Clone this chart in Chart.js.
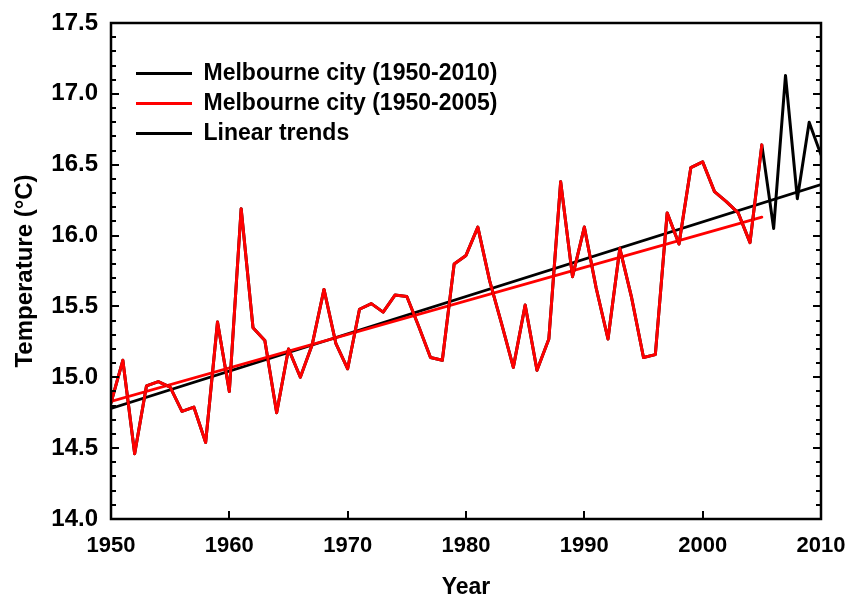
<!DOCTYPE html>
<html>
<head>
<meta charset="utf-8">
<script src="https://cdn.jsdelivr.net/npm/chart.js@4.4.1/dist/chart.umd.min.js"></script>
<style>
  html, body { margin: 0; padding: 0; background: #fff; }
  canvas { display: block; }
</style>
</head>
<body>
<canvas id="tempChart" width="847" height="599"></canvas>
<script>
// Melbourne city annual mean temperature
const years = [
    1950, 1951, 1952, 1953, 1954, 1955, 1956, 1957, 1958, 1959,
    1960, 1961, 1962, 1963, 1964, 1965, 1966, 1967, 1968, 1969,
    1970, 1971, 1972, 1973, 1974, 1975, 1976, 1977, 1978, 1979,
    1980, 1981, 1982, 1983, 1984, 1985, 1986, 1987, 1988, 1989,
    1990, 1991, 1992, 1993, 1994, 1995, 1996, 1997, 1998, 1999,
    2000, 2001, 2002, 2003, 2004, 2005, 2006, 2007, 2008, 2009,
    2010
];
const tempMelb = [
    14.82, 15.12, 14.46, 14.94, 14.97, 14.93, 14.76, 14.79, 14.54, 15.39,
    14.90, 16.19, 15.35, 15.26, 14.75, 15.20, 15.00, 15.23, 15.62, 15.24,
    15.06, 15.48, 15.52, 15.46, 15.58, 15.57, 15.36, 15.14, 15.12, 15.80,
    15.86, 16.06, 15.68, 15.38, 15.07, 15.51, 15.05, 15.27, 16.38, 15.71,
    16.06, 15.63, 15.27, 15.91, 15.56, 15.14, 15.16, 16.16, 15.94, 16.48,
    16.52, 16.31, 16.24, 16.16, 15.95, 16.64, 16.05, 17.13, 16.26, 16.80,
    16.57
];
// second series covers 1950-2005 only
const LAST_SHORT = 2005;

// linear trend end points
const trendYearsAll = [1950, 2010];
const trendAll = [14.78, 16.36];
const trendYearsShort = [1950, 2005];
const trendShort = [14.83, 16.13];

const xTicks = [1950, 1960, 1970, 1980, 1990, 2000, 2010];

const FONT = "'Liberation Sans', Arial, sans-serif";

function toPoints(xs, ys) {
    return xs.map((x, i) => ({ x: x, y: ys[i] }));
}

const nShort = years.indexOf(LAST_SHORT) + 1;

// frame + inward tick marks like the original figure
const frameTicks = {
    id: 'frameTicks',
    afterDatasetsDraw(chart) {
        const { ctx, chartArea: a, scales } = chart;
        const xs = scales.x, ys = scales.y;
        ctx.save();
        ctx.strokeStyle = '#000';
        ctx.lineWidth = 2;
        ctx.beginPath();
        for (let i = 0; i <= 35; i++) {
            const v = 14 + i * 0.1;
            const py = Math.round(ys.getPixelForValue(v));
            const len = (i % 5 === 0) ? 8 : 5;
            ctx.moveTo(a.left, py); ctx.lineTo(a.left + len, py);
            ctx.moveTo(a.right, py); ctx.lineTo(a.right - len, py);
        }
        xTicks.forEach(v => {
            const px = Math.round(xs.getPixelForValue(v));
            ctx.moveTo(px, a.bottom); ctx.lineTo(px, a.bottom - 8);
        });
        ctx.stroke();
        ctx.lineWidth = 2.5;
        ctx.strokeRect(a.left, a.top, a.right - a.left, a.bottom - a.top);
        ctx.restore();
    }
};

// place the legend at upper left, inside the plot
const legendSpot = {
    id: 'legendSpot',
    afterLayout(chart) {
        const lg = chart.legend;
        if (!lg) return;
        const h = lg.height;
        lg.left = chart.chartArea.left + 18;
        lg.top = chart.chartArea.top + 32;
        lg.right = lg.left + lg.width;
        lg.bottom = lg.top + h;
    }
};

const lineBase = { pointRadius: 0, tension: 0, borderJoinStyle: 'round', borderCapStyle: 'round' };

new Chart(document.getElementById('tempChart'), {
    type: 'line',
    data: {
        datasets: [
            Object.assign({
                label: 'Melbourne city (1950-2010)',
                data: toPoints(years, tempMelb),
                borderColor: '#000000',
                backgroundColor: '#000000',
                borderWidth: 3,
                order: 1
            }, lineBase),
            Object.assign({
                label: 'Melbourne city (1950-2005)',
                data: toPoints(years.slice(0, nShort), tempMelb.slice(0, nShort)),
                borderColor: '#ff0000',
                backgroundColor: '#ff0000',
                borderWidth: 3,
                order: 0
            }, lineBase),
            Object.assign({
                label: 'Linear trends',
                data: toPoints(trendYearsAll, trendAll),
                borderColor: '#000000',
                backgroundColor: '#000000',
                borderWidth: 2.8,
                order: 3
            }, lineBase),
            Object.assign({
                label: 'trend short',
                data: toPoints(trendYearsShort, trendShort),
                borderColor: '#ff0000',
                backgroundColor: '#ff0000',
                borderWidth: 2.8,
                order: 2
            }, lineBase)
        ]
    },
    options: {
        responsive: false,
        devicePixelRatio: 1,
        animation: false,
        layout: { padding: { top: 23, right: 26, left: 0, bottom: 0 } },
        scales: {
            x: {
                type: 'linear',
                min: 1950,
                max: 2010,
                afterFit: (s) => { s.height = 80; s.paddingLeft = 0; s.paddingRight = 0; },
                afterBuildTicks: (s) => { s.ticks = xTicks.map(v => ({ value: v })); },
                grid: { display: false, drawTicks: false },
                border: { display: false },
                ticks: {
                    padding: 14,
                    color: '#000',
                    font: { family: FONT, size: 22, weight: 'bold' },
                    callback: (v) => String(v)
                },
                title: {
                    display: true,
                    text: 'Year',
                    color: '#000',
                    padding: 0,
                    font: { family: FONT, size: 23, weight: 'bold', lineHeight: 1 }
                }
            },
            y: {
                min: 14,
                max: 17.5,
                afterFit: (s) => { s.width = 111; s.paddingTop = 0; s.paddingBottom = 0; },
                grid: { display: false, drawTicks: false },
                border: { display: false },
                ticks: {
                    stepSize: 0.5,
                    padding: 13,
                    color: '#000',
                    font: { family: FONT, size: 24, weight: 'bold' },
                    callback: (v) => Number(v).toFixed(1)
                },
                title: {
                    display: true,
                    text: 'Temperature (\u00B0C)',
                    color: '#000',
                    padding: { top: 13, bottom: 0 },
                    font: { family: FONT, size: 24, weight: 'bold', lineHeight: 1 }
                }
            }
        },
        plugins: {
            legend: {
                position: 'chartArea',
                align: 'start',
                labels: {
                    usePointStyle: true,
                    pointStyle: 'line',
                    pointStyleWidth: 56,
                    padding: 7,
                    color: '#000',
                    font: { family: FONT, size: 23, weight: 'bold', lineHeight: 1 },
                    filter: (item) => item.datasetIndex !== 3,
                    sort: (a, b) => a.datasetIndex - b.datasetIndex
                }
            },
            tooltip: { enabled: false }
        }
    },
    plugins: [frameTicks, legendSpot]
});
</script>
</body>
</html>
